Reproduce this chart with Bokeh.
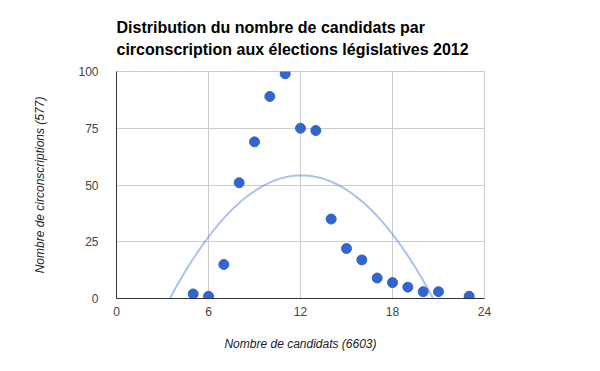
import numpy as np
from bokeh.plotting import figure
from bokeh.models import Title, FixedTicker, Range1d
from bokeh.embed import file_html
from bokeh.resources import INLINE

# data
candidats = [5, 6, 7, 8, 9, 10, 11, 12, 13, 14, 15, 16, 17, 18, 19, 20, 21, 23]
circonscriptions = [2, 1, 15, 51, 69, 89, 99, 75, 74, 35, 22, 17, 9, 7, 5, 3, 3, 1]
x_ticks = [0, 6, 12, 18, 24]
y_ticks = [0, 25, 50, 75, 100]

FONT = "Liberation Sans"

p = figure(width=600, height=371, output_backend="svg", toolbar_location=None,
           x_range=Range1d(0, 24), y_range=Range1d(0, 100),
           min_border_left=116, min_border_right=116,
           min_border_top=71, min_border_bottom=73, title=None)
p.outline_line_color = "#cccccc"

# titles (last added is on top)
for txt, so in [("circonscription aux élections législatives 2012", 28),
                ("Distribution du nombre de candidats par", -22)]:
    t = Title(text=txt, text_font=FONT, text_font_size="16px", text_font_style="bold",
              text_color="#000000", align="left", offset=0, standoff=so)
    p.add_layout(t, "above")

# trendline (polynomial, degree 2)
coef = np.polyfit(candidats, circonscriptions, 2)
xs = np.linspace(0, 24, 300)
ys = np.polyval(coef, xs)
p.line(xs, ys, line_color="#3366cc", line_alpha=0.4, line_width=2)

p.scatter(candidats, circonscriptions, size=10, fill_color="#3366cc",
          line_color="#3366cc")

for ax in (p.xaxis[0], p.yaxis[0]):
    ax.major_tick_line_color = None
    ax.minor_tick_line_color = None
    ax.axis_line_color = "#333333"
    ax.major_label_text_font = FONT
    ax.major_label_text_font_size = "12px"
    ax.major_label_text_color = "#444444"
    ax.axis_label_text_font = FONT
    ax.axis_label_text_font_size = "12px"
    ax.axis_label_text_font_style = "italic"
    ax.axis_label_text_color = "#222222"

p.xaxis[0].ticker = FixedTicker(ticks=x_ticks)
p.yaxis[0].ticker = FixedTicker(ticks=y_ticks)
p.xaxis[0].axis_label = "Nombre de candidats (6603)"
p.yaxis[0].axis_label = "Nombre de circonscriptions (577)"
p.xaxis[0].major_label_standoff = 2
p.yaxis[0].major_label_standoff = 12
p.xaxis[0].axis_label_standoff = 18
p.yaxis[0].axis_label_standoff = 28

p.xgrid.ticker = FixedTicker(ticks=x_ticks)
p.ygrid.ticker = FixedTicker(ticks=y_ticks)
p.xgrid.grid_line_color = "#cccccc"
p.ygrid.grid_line_color = "#cccccc"

open("out.html", "w").write(file_html(p, INLINE))
